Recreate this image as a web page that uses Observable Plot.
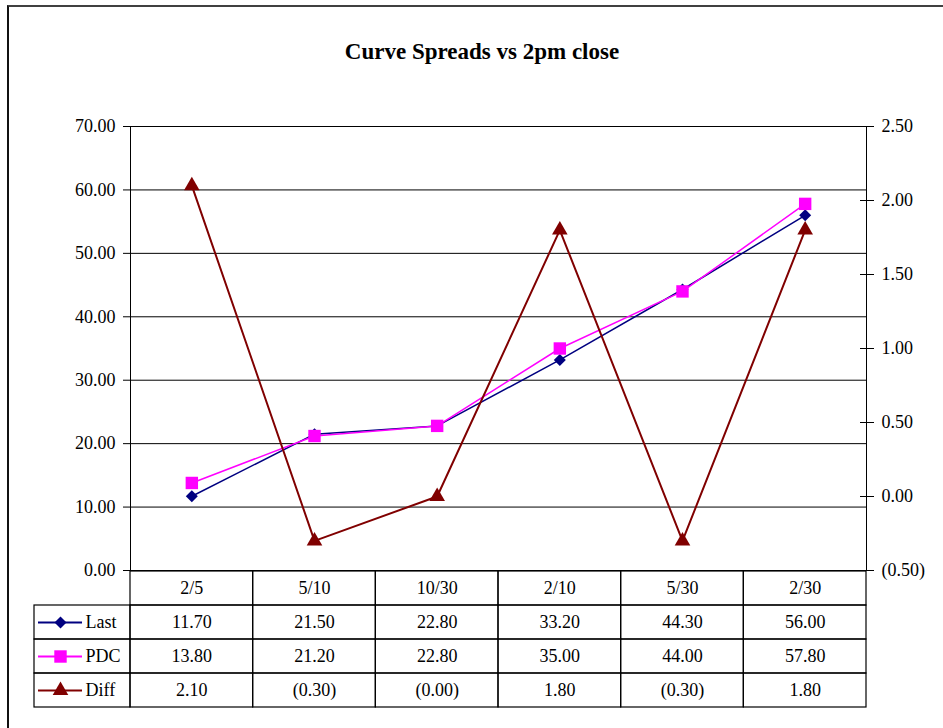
<!DOCTYPE html>
<html><head><meta charset="utf-8">
<script src="https://cdn.jsdelivr.net/npm/d3@7"></script>
<script src="https://cdn.jsdelivr.net/npm/@observablehq/plot@0.6"></script>
<style>
html,body{margin:0;padding:0;background:#fff;}
#wrap{position:relative;width:943px;height:728px;overflow:hidden;font-family:"Liberation Serif",serif;color:#000;}
#border{position:absolute;left:7px;top:5px;width:1000px;height:1000px;border-top:2px solid #404040;border-left:2px solid #111;}
#title{position:absolute;left:0;width:964px;top:38px;text-align:center;font-weight:bold;font-size:23px;line-height:28px;}
#chart{position:absolute;left:0;top:0;}
#table{position:absolute;left:0;top:569px;}
</style></head><body>
<div id="wrap"><div id="border"></div><div id="title">Curve Spreads vs 2pm close</div><div id="chart"></div><div id="table"></div></div>
<script>
// ---- data ----
const categories = ["2/5", "5/10", "10/30", "2/10", "5/30", "2/30"];
const last = [11.70, 21.50, 22.80, 33.20, 44.30, 56.00];
const pdc  = [13.80, 21.20, 22.80, 35.00, 44.00, 57.80];
const diff = [2.10, -0.30, -0, 1.80, -0.30, 1.80];
const leftTicks = [0, 10, 20, 30, 40, 50, 60, 70];
const rightTicks = [-0.5, 0, 0.5, 1, 1.5, 2, 2.5];
const seriesNames = ["Last", "PDC", "Diff"];

// ---- layout ----
const W = 943, ML = 130, MR = 77;
const FS = 18;
const colW = (W - ML - MR) / categories.length;
const legendWidth = 96;
const xDomain = [-0.5, categories.length - 0.5];
const pxToX = p => xDomain[0] + (p - ML) / colW;
const idx = d3.range(categories.length);

const lDom = [leftTicks[0], leftTicks[leftTicks.length - 1]];
const rDom = [rightTicks[0], rightTicks[rightTicks.length - 1]];
const toLeft = v => (v - rDom[0]) / (rDom[1] - rDom[0]) * (lDom[1] - lDom[0]) + lDom[0];
const toRight = v => (v - lDom[0]) / (lDom[1] - lDom[0]) * (rDom[1] - rDom[0]) + rDom[0];
const clean = v => Math.round(v * 1e6) / 1e6 + 0;
const fmt = v => (v < 0 || Object.is(v, -0)) ? `(${Math.abs(v).toFixed(2)})` : v.toFixed(2);

const series = [
  {name: seriesNames[0], values: last, color: "#000080", symbol: "diamond2", r: 5.4, sw: 1.5, right: false},
  {name: seriesNames[1], values: pdc,  color: "#FF00FF", symbol: "square",   r: 7.0, sw: 1.5, right: false},
  {name: seriesNames[2], values: diff, color: "#800000", symbol: "triangle", r: 5.8, sw: 2,   right: true}
];
const yv = (s, v) => s.right ? toLeft(v) : v;

const style = {fontFamily: "'Liberation Serif', serif", fontSize: FS + "px", background: "transparent", color: "#000", overflow: "visible"};

const chart = Plot.plot({
  width: W, height: 600, marginLeft: ML, marginRight: MR, marginTop: 126, marginBottom: 30,
  x: {domain: xDomain, axis: null},
  y: {domain: lDom},
  style,
  marks: [
    Plot.gridY(leftTicks.slice(1, -1), {stroke: "#000", strokeOpacity: 1}),
    Plot.frame({stroke: "#000"}),
    Plot.axisY(leftTicks, {anchor: "left", tickSize: 7, tickPadding: 8, tickFormat: fmt, fontSize: FS, label: null}),
    Plot.axisY(rightTicks.map(toLeft), {anchor: "right", tickSize: 14, insetRight: 7, tickPadding: 8,
      tickFormat: v => fmt(clean(toRight(v))), fontSize: FS, label: null}),
    ...series.flatMap(s => [
      Plot.line(idx, {x: i => i, y: i => yv(s, s.values[i]), stroke: s.color, strokeWidth: s.sw}),
      Plot.dot(idx, {x: i => i, y: i => yv(s, s.values[i]), symbol: s.symbol, r: s.r, fill: s.color, stroke: "none"})
    ])
  ]
});
document.getElementById("chart").append(chart);

// ---- data table ----
const rows = ["head", ...seriesNames];
const headCells = idx.map(i => ({i, row: "head", label: categories[i]}));
const valueCells = series.flatMap(s => idx.map(i => ({i, row: s.name, label: fmt(s.values[i])})));
const legLeft = xDomain[0] - legendWidth / colW;

const table = Plot.plot({
  width: W, height: 141, marginLeft: ML, marginRight: MR, marginTop: 1, marginBottom: 2,
  x: {domain: xDomain, axis: null},
  y: {domain: rows, padding: 0, axis: null},
  style,
  marks: [
    Plot.barX([...headCells, ...valueCells], {x1: d => d.i - 0.5, x2: d => d.i + 0.5, y: "row", fill: "none", stroke: "#000", strokeWidth: 1.2}),
    Plot.barX(series, {x1: () => legLeft, x2: () => xDomain[0], y: "name", fill: "none", stroke: "#000", strokeWidth: 1.2}),
    Plot.text([...headCells, ...valueCells], {x: "i", y: "row", text: "label", fontSize: FS}),
    ...series.flatMap(s => [
      Plot.ruleY([s], {y: "name", x1: () => pxToX(38), x2: () => pxToX(82), stroke: s.color, strokeWidth: 2}),
      Plot.dot([s], {x: () => pxToX(60), y: "name", symbol: s.symbol, r: s.r, fill: s.color, stroke: "none"}),
      Plot.text([s], {x: () => pxToX(85), y: "name", text: "name", textAnchor: "start", fontSize: FS})
    ])
  ]
});
document.getElementById("table").append(table);
</script>
</body></html>
